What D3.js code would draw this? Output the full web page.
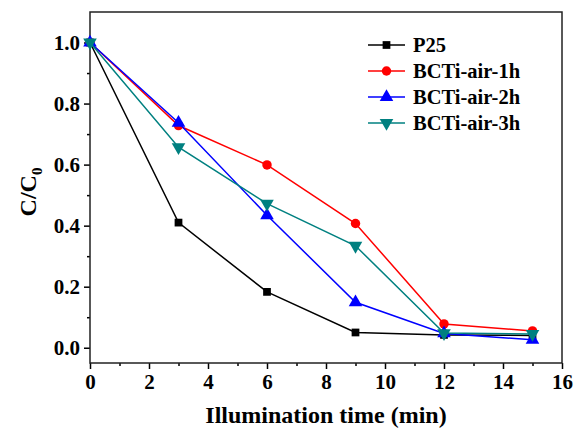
<!DOCTYPE html>
<html>
<head>
<meta charset="utf-8">
<script src="https://cdn.jsdelivr.net/npm/d3@7"></script>
<style>
  body { margin: 0; background: #fff; }
  text { font-family: "Liberation Serif", "Times New Roman", serif; font-weight: bold; }
</style>
</head>
<body>
<svg id="chart" width="574" height="429"></svg>
<script>
const times = [0, 3, 6, 9, 12, 15]
const seriesNames = ["P25", "BCTi-air-1h", "BCTi-air-2h", "BCTi-air-3h"]
const p25 = [1.0, 0.41, 0.183, 0.05, 0.042, 0.04]
const air1h = [1.0, 0.728, 0.599, 0.407, 0.078, 0.055]
const air2h = [1.0, 0.737, 0.434, 0.149, 0.047, 0.026]
const air3h = [1.0, 0.657, 0.472, 0.334, 0.048, 0.045]
const xTicks = [0, 2, 4, 6, 8, 10, 12, 14, 16]
const yTicks = [0.0, 0.2, 0.4, 0.6, 0.8, 1.0]

const colors = ["#000000", "#ff0000", "#0000ff", "#008080"]
const symbols = [d3.symbolSquare, d3.symbolCircle, d3.symbolTriangle, d3.symbolTriangle]
const symSizes = [60, 70, 80, 80]
const rotations = [0, 0, 0, 180]
const allValues = [p25, air1h, air2h, air3h]

const margin = { left: 90, top: 12, right: 12, bottom: 66 }
const width = 574, height = 429
const svg = d3.select("#chart")

const x = d3.scaleLinear().domain([0, 16]).range([margin.left, width - margin.right])
const y = d3.scaleLinear().domain([-0.05, 1.1]).range([height - margin.bottom, margin.top])

// axes with minor ticks
const xMinor = d3.range(1, 16, 2)
const yMinor = [0.1, 0.3, 0.5, 0.7, 0.9]

const gx = svg.append("g").attr("transform", `translate(0,${height - margin.bottom})`)
gx.call(d3.axisBottom(x).tickValues(xTicks).tickSize(6).tickFormat(d3.format("d")))
gx.append("g").call(d3.axisBottom(x).tickValues(xMinor).tickSize(3).tickFormat(""))

const gy = svg.append("g").attr("transform", `translate(${margin.left},0)`)
gy.call(d3.axisLeft(y).tickValues(yTicks).tickSize(6).tickFormat(d3.format(".1f")))
gy.append("g").call(d3.axisLeft(y).tickValues(yMinor).tickSize(3).tickFormat(""))

svg.selectAll(".domain").remove()
svg.selectAll(".tick line").attr("stroke", "#000").attr("stroke-width", 1.5)
gx.selectAll(".tick text").attr("font-size", 21).attr("dy", "0.8em").attr("fill", "#000")
gy.selectAll(".tick text").attr("font-size", 21).attr("dx", "-0.05em").attr("fill", "#000")
svg.selectAll(".tick text").style("font-family", "'Liberation Serif', serif").style("font-weight", "bold")

// frame
svg.append("rect")
    .attr("x", x(0)).attr("y", y(1.1))
    .attr("width", x(16) - x(0)).attr("height", y(-0.05) - y(1.1))
    .attr("fill", "none").attr("stroke", "#222").attr("stroke-width", 1.5)

// series
const line = d3.line().x((d, i) => x(times[i])).y(d => y(d))
allValues.forEach((vals, k) => {
    svg.append("path")
        .datum(vals)
        .attr("d", line)
        .attr("fill", "none")
        .attr("stroke", colors[k])
        .attr("stroke-width", 1.5)
    svg.selectAll(null)
        .data(vals)
        .enter()
        .append("path")
        .attr("d", d3.symbol().type(symbols[k]).size(symSizes[k]))
        .attr("transform", (d, i) => `translate(${x(times[i])},${y(d)}) rotate(${rotations[k]})`)
        .attr("fill", colors[k])
})

// legend
const legend = svg.append("g").attr("transform", "translate(368,45)")
seriesNames.forEach((name, k) => {
    const row = legend.append("g").attr("transform", `translate(0,${k * 26})`)
    row.append("line").attr("x1", 0).attr("x2", 37).attr("y1", 0).attr("y2", 0)
        .attr("stroke", colors[k]).attr("stroke-width", 1.5)
    row.append("path")
        .attr("d", d3.symbol().type(symbols[k]).size(symSizes[k]))
        .attr("transform", `translate(18.5,0) rotate(${rotations[k]})`)
        .attr("fill", colors[k])
    row.append("text").attr("x", 45).attr("y", 0).attr("dy", "0.35em")
        .attr("font-size", 20.5).text(name)
})

// axis titles
svg.append("text")
    .attr("x", (x(0) + x(16)) / 2).attr("y", 423)
    .attr("text-anchor", "middle").attr("font-size", 24)
    .text("Illumination time (min)")

const yt = svg.append("text")
    .attr("transform", `translate(36,192) rotate(-90)`)
    .attr("text-anchor", "middle").attr("font-size", 24)
yt.append("tspan").text("C/C")
yt.append("tspan").attr("font-size", 15).attr("dy", 6).text("0")
</script>
</body>
</html>
